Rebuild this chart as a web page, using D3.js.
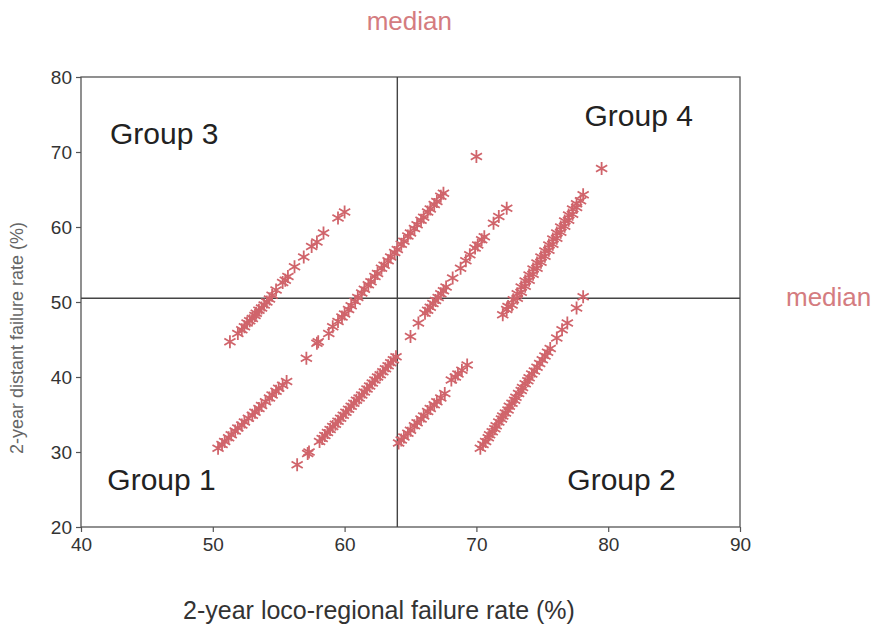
<!DOCTYPE html>
<html>
<head>
<meta charset="utf-8">
<script src="https://cdn.jsdelivr.net/npm/d3@7"></script>
<style>
    body { margin: 0; background: #fff; }
    text { font-family: Arial, "Liberation Sans", sans-serif; }
</style>
</head>
<body>
<div id="chart"></div>
<script>

// ticks of the two axes
const xTicks = [40, 50, 60, 70, 80, 90];
const yTicks = [20, 30, 40, 50, 60, 70, 80];

// medians that split the plane in four groups
const medianLocoRegional = 64;
const medianDistant = 50.5;

// [loco-regional %, distant %], one array per streak
const streakA = [[51.3,44.7],[51.9,45.8],[52.2,46.3],[52.4,46.7],[52.6,47.2],[52.8,47.5],[53.0,47.8],[53.2,48.2],
    [53.3,48.5],[53.5,48.9],[53.7,49.2],[53.9,49.6],[54.1,50.0],[54.3,50.4],[54.5,50.9],[54.8,51.6],[55.3,52.6],
    [55.5,52.9],[55.7,53.4],[56.2,54.7],[56.9,56.0],[57.5,57.4],[57.9,58.0],[58.4,59.2],[59.5,61.2],[60.0,62.0]];

const streakB = [[50.4,30.5],[50.7,31.0],[50.9,31.4],[51.2,31.9],[51.4,32.3],[51.7,32.8],[51.9,33.2],[52.2,33.6],
    [52.4,34.0],[52.7,34.5],[53.0,34.9],[53.2,35.3],[53.5,35.8],[53.7,36.2],[54.0,36.7],[54.3,37.2],[54.5,37.6],
    [54.8,38.1],[55.0,38.5],[55.3,38.9],[55.6,39.4]];

const streakC = [[57.1,42.5],[57.9,44.5],[58.0,44.7],[58.8,45.8],[59.1,46.7],[59.5,47.4],[59.8,48.0],[60.0,48.4],
    [60.3,49.0],[60.5,49.5],[60.8,50.1],[61.0,50.6],[61.3,51.2],[61.5,51.7],[61.8,52.3],[62.0,52.7],[62.3,53.4],
    [62.5,53.8],[62.8,54.5],[63.0,54.9],[63.3,55.5],[63.5,56.0],[63.8,56.6],[64.0,57.0],[64.3,57.7],[64.5,58.1],
    [64.8,58.8],[65.0,59.2],[65.3,59.8],[65.5,60.3],[65.8,60.9],[66.0,61.3],[66.3,62.0],[66.5,62.4],[66.8,63.0],
    [67.0,63.4],[67.3,64.1],[67.5,64.5]];

const streakD = [[56.4,28.3],[57.2,29.8],[57.3,30.0],[58.1,31.4],[58.3,31.8],[58.5,32.2],[58.7,32.6],[58.9,33.0],
    [59.1,33.4],[59.3,33.7],[59.5,34.1],[59.7,34.5],[59.9,34.9],[60.1,35.3],[60.3,35.7],[60.5,36.1],[60.7,36.5],
    [60.9,36.9],[61.1,37.2],[61.3,37.6],[61.5,38.0],[61.7,38.4],[61.9,38.8],[62.1,39.2],[62.3,39.6],[62.5,40.0],
    [62.7,40.3],[62.9,40.7],[63.1,41.1],[63.3,41.5],[63.5,41.9],[63.7,42.3],[63.9,42.7]];

const streakE = [[64.1,31.2],[64.3,31.6],[64.5,32.0],[64.8,32.5],[65.0,32.9],[65.3,33.5],[65.5,33.9],[65.8,34.4],
    [66.0,34.8],[66.3,35.4],[66.5,35.8],[66.8,36.3],[67.0,36.7],[67.3,37.2],[67.6,37.8],[68.1,39.6],[68.4,40.0],
    [68.6,40.4],[68.9,40.9],[69.3,41.6]];

const streakF = [[65.0,45.4],[65.6,47.2],[66.1,48.5],[66.3,48.9],[66.5,49.3],[66.7,49.8],[66.9,50.2],[67.1,50.6],
    [67.3,51.1],[67.5,51.5],[67.7,52.0],[68.2,53.2],[68.8,54.5],[69.2,55.5],[69.5,56.3],[69.9,57.2],[70.1,57.6],
    [70.4,58.3],[70.6,58.7],[71.3,60.5],[71.7,61.4],[72.3,62.5]];

const streakG = [[72.0,48.3],[72.3,49.0],[72.4,49.4],[72.7,49.6],[72.8,50.3],[73.1,50.5],[73.1,51.1],[73.4,51.3],
    [73.4,52.0],[73.7,52.1],[73.7,52.8],[74.0,52.9],[74.0,53.6],[74.3,53.7],[74.3,54.4],[74.6,54.5],[74.6,55.2],
    [74.9,55.3],[74.9,56.0],[75.2,56.1],[75.2,56.8],[75.5,56.9],[75.5,57.6],[75.8,57.7],[75.8,58.4],[76.1,58.5],
    [76.1,59.2],[76.4,59.3],[76.4,60.0],[76.7,60.1],[76.7,60.8],[77.0,60.9],[77.0,61.6],[77.3,61.7],[77.3,62.4],
    [77.6,62.6],[77.6,63.1],[77.9,63.5],[78.1,64.3]];

const streakH = [[70.3,30.5],[70.5,31.0],[70.7,31.4],[70.9,31.9],[71.0,32.3],[71.2,32.7],[71.4,33.1],[71.5,33.5],
    [71.7,34.0],[71.9,34.4],[72.0,34.8],[72.2,35.2],[72.4,35.6],[72.5,36.1],[72.7,36.5],[72.9,36.9],[73.0,37.3],
    [73.2,37.8],[73.4,38.2],[73.5,38.6],[73.7,39.1],[73.9,39.5],[74.0,39.9],[74.2,40.4],[74.4,40.8],[74.6,41.3],
    [74.8,41.8],[75.0,42.3],[75.2,42.8],[75.4,43.3],[75.6,43.8],[76.1,45.2],[76.5,46.3],[76.9,47.2],
    [77.6,49.2],[78.1,50.7]];

const loosePoints = [[70.0,69.4],[79.5,67.8]];

// group names and where they sit (data units, baseline)
const groupNames = ["Group 3", "Group 4", "Group 1", "Group 2"];
const groupPos = [[42.2,71.1],[78.2,73.5],[42.0,24.9],[76.9,24.9]];


class ScatterGraph
{
    constructor(config)
    {
        this.config = config;
        this.createSvg();
        this.createMargins();
        this.createScales();
        this.createAxis();
        this.drawMedians();
        this.drawPoints();
        this.drawLabels();
    }

    createSvg()
    {
        this.svg = d3.select(this.config.div)
            .append("svg")
            .attr("width", this.config.width + this.config.left + this.config.right)
            .attr("height", this.config.height + this.config.top + this.config.bottom);
    }

    createMargins()
    {
        this.margins = this.svg
            .append("g")
            .attr("transform", `translate(${this.config.left},${this.config.top})`);
    }

    createScales()
    {
        this.xScale = d3.scaleLinear().domain([40, 90]).range([0, this.config.width]);
        this.yScale = d3.scaleLinear().domain([20, 80]).range([this.config.height, 0]);
    }

    createAxis()
    {
        let xAxis = d3.axisBottom(this.xScale).tickValues(xTicks).tickSize(5).tickPadding(6);
        let yAxis = d3.axisLeft(this.yScale).tickValues(yTicks).tickSize(5).tickPadding(4);

        let gx = this.margins.append("g")
            .attr("transform", `translate(0,${this.config.height})`)
            .call(xAxis);
        let gy = this.margins.append("g")
            .call(yAxis);

        [gx, gy].forEach(g => {
            g.select(".domain").remove();
            g.selectAll("line").attr("stroke", "#555").attr("stroke-width", 1.2);
            g.selectAll("text").attr("fill", "#333").style("font-size", "19px")
                .style("font-family", "Arial, 'Liberation Sans', sans-serif");
        });

        // frame round the plot
        this.margins.append("rect")
            .attr("width", this.config.width)
            .attr("height", this.config.height)
            .attr("fill", "none")
            .attr("stroke", "#555")
            .attr("stroke-width", 1.3);
    }

    drawMedians()
    {
        this.margins.append("line")
            .attr("x1", this.xScale(medianLocoRegional)).attr("x2", this.xScale(medianLocoRegional))
            .attr("y1", 0).attr("y2", this.config.height)
            .attr("stroke", "#444").attr("stroke-width", 1.4);
        this.margins.append("line")
            .attr("x1", 0).attr("x2", this.config.width)
            .attr("y1", this.yScale(medianDistant)).attr("y2", this.yScale(medianDistant))
            .attr("stroke", "#444").attr("stroke-width", 1.4);
    }

    drawPoints()
    {
        let all = [].concat(streakA, streakB, streakC, streakD, streakE, streakF, streakG, streakH, loosePoints);
        // six armed asterisk
        let star = "M0,-6.5L0,6.5M-5.6,-3.25L5.6,3.25M-5.6,3.25L5.6,-3.25";

        this.margins.append("g")
            .selectAll("path")
            .data(all)
            .join("path")
            .attr("d", star)
            .attr("transform", d => `translate(${this.xScale(d[0])},${this.yScale(d[1])})`)
            .attr("fill", "none")
            .attr("stroke", "#d0646b")
            .attr("stroke-width", 1.8);
    }

    drawLabels()
    {
        this.margins.selectAll(".group")
            .data(groupNames)
            .join("text")
            .attr("class", "group")
            .attr("x", (d, i) => this.xScale(groupPos[i][0]))
            .attr("y", (d, i) => this.yScale(groupPos[i][1]))
            .attr("fill", "#222")
            .style("font-size", "30px")
            .text(d => d);

        // median captions outside the frame
        this.svg.append("text")
            .attr("x", this.config.left + this.xScale(medianLocoRegional) + 12)
            .attr("y", 30)
            .attr("text-anchor", "middle")
            .attr("fill", "#d47c80")
            .style("font-size", "26px")
            .text("median");
        this.svg.append("text")
            .attr("x", 786)
            .attr("y", this.config.top + this.yScale(medianDistant) + 8)
            .attr("fill", "#d47c80")
            .style("font-size", "26px")
            .text("median");

        // axis titles
        this.svg.append("text")
            .attr("x", 379)
            .attr("y", 619)
            .attr("text-anchor", "middle")
            .attr("fill", "#333")
            .style("font-size", "25px")
            .text("2-year loco-regional failure rate (%)");
        this.svg.append("text")
            .attr("transform", "translate(23,338) rotate(-90)")
            .attr("text-anchor", "middle")
            .attr("fill", "#666")
            .style("font-size", "18px")
            .text("2-year distant failure rate (%)");
    }
}

new ScatterGraph({div: "#chart", left: 81, top: 77, width: 659, height: 450, right: 137, bottom: 111});

</script>
</body>
</html>
